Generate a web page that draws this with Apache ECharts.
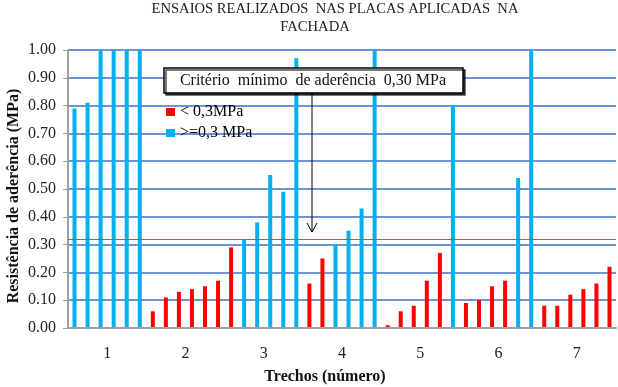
<!DOCTYPE html>
<html>
<head>
<meta charset="utf-8">
<script src="https://cdn.jsdelivr.net/npm/echarts@6/dist/echarts.min.js"></script>
<style>html,body{margin:0;padding:0;background:#fff}#c{width:618px;height:387px}</style>
</head>
<body>
<div id="c"></div>
<script>
// ---- data ----
const trechos = ['1','2','3','4','5','6','7'];
const values = [
  0.79,0.81,1.00,1.00,1.00,1.00,
  0.06,0.11,0.13,0.14,0.15,0.17,
  0.29,0.32,0.38,0.55,0.49,0.97,
  0.16,0.25,0.30,0.35,0.43,1.00,
  0.01,0.06,0.08,0.17,0.27,0.80,
  0.09,0.10,0.15,0.17,0.54,1.00,
  0.08,0.08,0.12,0.14,0.16,0.22
];
const threshold = 0.30;
const criterionLine = 0.32;
const seriesNames = ['< 0,3MPa', '>=0,3 MPa'];
const titleLines = ['ENSAIOS REALIZADOS  NAS PLACAS APLICADAS  NA', 'FACHADA'];
const yTitle = 'Resistência de aderência (MPa)';
const xTitle = 'Trechos (número)';
const noteText = 'Critério  mínimo  de aderência  0,30 MPa';

const idx = values.map((v, i) => String(i + 1));
const redData = values.map(v => v < threshold ? v : '-');
const blueData = values.map(v => v >= threshold ? v : '-');

const serif = '"Liberation Serif", "Times New Roman", serif';
const chart = echarts.init(document.getElementById('c'), null, {renderer: 'canvas'});
chart.setOption({
  animation: false,
  backgroundColor: '#fff',
  grid: {left: 68, right: 2, top: 50, bottom: 59, containLabel: false},
  legend: {
    orient: 'vertical', left: 161, top: 99,
    itemWidth: 9, itemHeight: 8, itemGap: 5, icon: 'rect',
    textStyle: {fontFamily: serif, fontSize: 16, color: '#000', lineHeight: 16},
    data: seriesNames
  },
  xAxis: [
    {
      type: 'category', data: trechos, position: 'bottom',
      axisLine: {show: true, lineStyle: {color: '#a0a0a0', width: 2}},
      axisTick: {show: false},
      axisLabel: {fontFamily: serif, fontSize: 16, color: '#222', margin: 18},
      splitLine: {show: false}, z: 5
    },
    {
      type: 'category', data: idx, show: false, position: 'bottom'
    }
  ],
  yAxis: {
    type: 'value', min: 0, max: 1, interval: 0.1,
    axisLine: {show: true, lineStyle: {color: '#a0a0a0', width: 2}},
    axisTick: {show: true, inside: false, length: 5, lineStyle: {color: '#a0a0a0'}},
    axisLabel: {fontFamily: serif, fontSize: 16, color: '#222', margin: 12,
      formatter: v => v.toFixed(2)},
    splitLine: {show: true, lineStyle: {color: '#3f72c2', width: 1.5}}
  },
  series: [
    {
      name: seriesNames[0], type: 'bar', xAxisIndex: 1, data: redData,
      barWidth: 4, barGap: '-100%', itemStyle: {color: '#ff0000'},
      markLine: {
        silent: true, symbol: 'none', label: {show: false},
        lineStyle: {color: '#c0504d', width: 1, type: 'solid'},
        data: [{yAxis: criterionLine}]
      }
    },
    {
      name: seriesNames[1], type: 'bar', xAxisIndex: 1, data: blueData,
      barWidth: 4, barGap: '-100%', itemStyle: {color: '#00b0f0'}
    }
  ],
  graphic: [
    {type: 'text', x: 335, y: 9, z: 10, style: {text: titleLines[0], fontFamily: serif, fontSize: 14.6, fill: '#222', textAlign: 'center', textVerticalAlign: 'middle'}},
    {type: 'text', x: 315, y: 27, z: 10, style: {text: titleLines[1], fontFamily: serif, fontSize: 14.6, fill: '#222', textAlign: 'center', textVerticalAlign: 'middle'}},
    {type: 'text', x: 14, y: 196, rotation: Math.PI / 2, z: 10, style: {text: yTitle, fontFamily: serif, fontSize: 16, fontWeight: 'bold', fill: '#111', textAlign: 'center', textVerticalAlign: 'middle'}},
    {type: 'text', x: 325, y: 377, z: 10, style: {text: xTitle, fontFamily: serif, fontSize: 16, fontWeight: 'bold', fill: '#111', textAlign: 'center', textVerticalAlign: 'middle'}},
    {type: 'rect', z: 20, shape: {x: 164, y: 68, width: 299, height: 25},
      style: {fill: '#fff', stroke: '#000', lineWidth: 1.5, shadowColor: 'rgba(0,0,0,0.7)', shadowOffsetX: 2, shadowOffsetY: 2, shadowBlur: 0}},
    {type: 'text', z: 21, x: 313, y: 81, style: {text: noteText, fontFamily: serif, fontSize: 16, fill: '#111', textAlign: 'center', textVerticalAlign: 'middle'}},
    {type: 'line', z: 20, shape: {x1: 312, y1: 93, x2: 312, y2: 232}, style: {stroke: '#000', lineWidth: 1}},
    {type: 'polyline', z: 20, shape: {points: [[307, 223], [312, 232], [317, 223]]}, style: {stroke: '#000', lineWidth: 1, fill: null}}
  ]
});
</script>
</body>
</html>
